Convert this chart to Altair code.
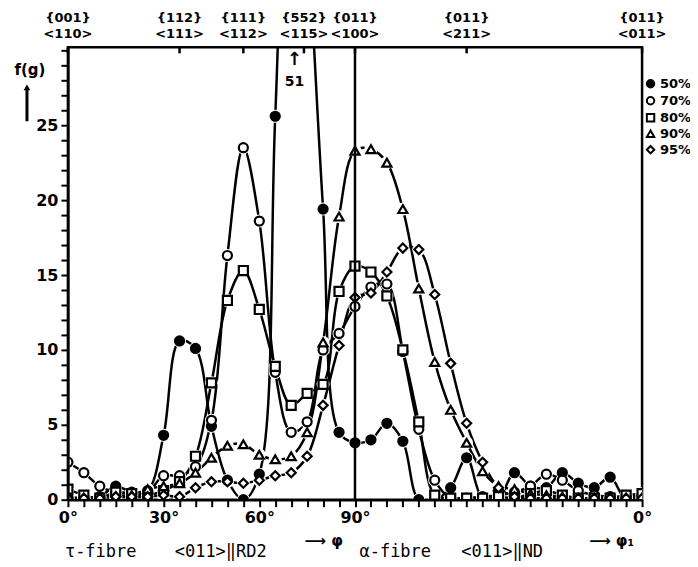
import altair as alt
import pandas as pd

# ---------------- data ----------------
angles = list(range(0, 181, 5))          # 0..90 = tau-fibre (phi), 90..180 = alpha-fibre (phi1 90 -> 0)
series_names = ["50%", "70%", "80%", "90%", "95%"]
f50 = [0.2, 0.1, 0.2, 0.9, 0.5, 0.6, 4.3, 10.6, 10.1, 4.9, 1.3, 0.0, 1.7, 25.6, 51.0, 38.0, 19.4, 4.5,
       3.8, 4.0, 5.1, 3.9, 0.0, 0.0, 0.8, 2.8, 0.1, 0.1, 1.8, 0.9, 0.8, 1.8, 1.1, 0.8, 1.5, 0.0, 0.3]
f70 = [2.5, 1.8, 0.9, 0.5, 0.4, 0.5, 1.6, 1.6, 2.2, 5.3, 16.3, 23.5, 18.6, 8.5, 4.5, 5.2, 10.0, 11.1,
       12.9, 14.2, 14.4, 9.9, 4.7, 1.3, 0.1, 0.1, 0.2, 0.3, 0.5, 0.9, 1.7, 1.3, 0.6, 0.3, 0.2, 0.2, 0.3]
f80 = [0.7, 0.3, 0.1, 0.5, 0.4, 0.3, 0.6, 1.2, 2.9, 7.8, 13.3, 15.3, 12.7, 8.9, 6.3, 7.1, 7.7, 13.9,
       15.6, 15.2, 13.6, 10.0, 5.2, 0.3, 0.1, 0.1, 0.1, 0.2, 0.1, 0.4, 0.6, 0.3, 0.1, 0.1, 0.1, 0.3, 0.4]
f90 = [0.1, 0.1, 0.2, 0.2, 0.3, 0.7, 0.9, 1.1, 1.8, 2.8, 3.6, 3.7, 3.0, 2.7, 2.9, 4.5, 10.5, 18.9,
       23.3, 23.4, 22.5, 19.4, 14.1, 9.2, 6.0, 3.8, 1.9, 0.9, 0.7, 0.4, 0.3, 0.2, 0.1, 0.1, 0.1, 0.1, 0.1]
f95 = [0.1, 0.1, 0.1, 0.2, 0.2, 0.2, 0.3, 0.2, 0.8, 1.2, 1.2, 1.1, 1.3, 1.6, 1.8, 2.9, 6.3, 10.3,
       13.5, 13.8, 15.2, 16.8, 16.7, 13.7, 9.1, 5.1, 2.5, 0.8, 0.2, 0.1, 0.1, 0.1, 0.1, 0.1, 0.1, 0.1, 0.1]

top_pos = [0, 35, 55, 74, 90, 125, 180]
top_planes = ["{001}", "{112}", "{111}", "{552}", "{011}", "{011}", "{011}"]
top_dirs = ["<110>", "<111>", "<112>", "<115>", "<100>", "<211>", "<011>"]

peak_pos = [71]
peak_label = ["51"]
divider_pos = [90]

FONT = "DejaVu Sans"
MONO = "DejaVu Sans Mono"

rows = []
for name, vals in zip(series_names, [f50, f70, f80, f90, f95]):
    for a, v in zip(angles, vals):
        rows.append({"angle": a, "f": v, "series": name})
df = pd.DataFrame(rows)
top_df = pd.DataFrame({"pos": top_pos, "plane": top_planes, "dir": top_dirs})
peak_df = pd.DataFrame({"pos": peak_pos, "label": peak_label})
div_df = pd.DataFrame({"pos": divider_pos})
one = pd.DataFrame({"a": [0]})

x_scale = alt.Scale(domain=[0, 180], nice=False, zero=False)
y_scale = alt.Scale(domain=[0, 30.2], nice=False, zero=True)
shape_scale = alt.Scale(domain=series_names,
                        range=["circle", "circle", "square", "triangle-up", "diamond"])
fill_scale = alt.Scale(domain=series_names,
                       range=["black", "white", "white", "white", "white"])
stroke_scale = alt.Scale(domain=series_names, range=["black"] * 5)

bottom_axis = alt.Axis(
    values=angles, tickSize=7, tickWidth=2, tickColor="black",
    domainColor="black", domainWidth=2.5, grid=False, title=None, zindex=1,
    labelExpr="datum.value == 180 ? '0°' : ((datum.value <= 90 && datum.value % 30 == 0) ? datum.value + '°' : '')",
    labelFont=FONT, labelFontWeight="bold", labelFontSize=16, labelColor="black",
    labelPadding=3, labelOverlap=False, labelFlush=False,
)
left_axis = alt.Axis(
    values=list(range(0, 31)), tickSize=7, tickWidth=2, tickColor="black",
    domainColor="black", domainWidth=2.5, grid=False, title=None, zindex=1,
    labelExpr="(datum.value % 5 == 0 && datum.value < 30) ? '' + datum.value : ''",
    labelFont=FONT, labelFontWeight="bold", labelFontSize=16, labelColor="black",
    labelPadding=3, labelOverlap=False, labelFlush=False,
)

legend = alt.Legend(
    orient="none", legendX=577, legendY=30, title=None,
    labelFont=FONT, labelFontWeight="bold", labelFontSize=13, labelColor="black",
    symbolSize=55, symbolStrokeWidth=2, symbolStrokeColor="black",
    rowPadding=0, labelOffset=3,
)


def xq(field):
    return alt.X(field, scale=x_scale, axis=bottom_axis)


def yq(field):
    return alt.Y(field, scale=y_scale, axis=left_axis)


lines = alt.Chart(df).mark_line(
    color="black", strokeWidth=2.5, interpolate="catmull-rom", clip=True
).encode(x=xq("angle:Q"), y=yq("f:Q"), detail="series:N")

halo = alt.Chart(df).mark_circle(color="white", size=170, opacity=1, clip=True).encode(
    x=xq("angle:Q"), y=yq("f:Q"),
)

markers = alt.Chart(df).mark_point(
    strokeWidth=2.2, size=82, opacity=1, clip=True
).encode(
    x=xq("angle:Q"), y=yq("f:Q"),
    shape=alt.Shape("series:N", scale=shape_scale, legend=legend),
    fill=alt.Fill("series:N", scale=fill_scale, legend=legend),
    stroke=alt.Stroke("series:N", scale=stroke_scale, legend=legend),
)

divider = alt.Chart(div_df).mark_rule(color="black", strokeWidth=2.5).encode(
    x=xq("pos:Q")
)

top_ticks = alt.Chart(top_df).mark_rule(color="black", strokeWidth=2.5).encode(
    x=xq("pos:Q"), y=alt.value(0), y2=alt.value(6)
)
top_row1 = alt.Chart(top_df).mark_text(
    font=FONT, fontWeight="bold", fontSize=13, color="black", baseline="middle", align="center"
).encode(x=xq("pos:Q"), y=alt.value(-29), text="plane:N")
top_row2 = alt.Chart(top_df).mark_text(
    font=FONT, fontWeight="bold", fontSize=13, color="black", baseline="middle", align="center"
).encode(x=xq("pos:Q"), y=alt.value(-13), text="dir:N")

peak_arrow = alt.Chart(peak_df).mark_text(
    font=FONT, fontWeight="bold", fontSize=18, color="black", baseline="middle", align="center"
).encode(x=xq("pos:Q"), y=alt.value(13), text=alt.value("↑"))
peak_text = alt.Chart(peak_df).mark_text(
    font=FONT, fontWeight="bold", fontSize=14, color="black", baseline="middle", align="center"
).encode(x=xq("pos:Q"), y=alt.value(35), text="label:N")


def note(txt, x, y, size=15, align="center", font=FONT, weight="bold"):
    return alt.Chart(one).mark_text(
        font=font, fontWeight=weight, fontSize=size, color="black",
        baseline="middle", align=align
    ).encode(x=alt.value(x), y=alt.value(y), text=alt.value(txt))


ylab = note("f(g)", -38, 23, size=15)
yarrow = alt.Chart(one).mark_rule(color="black", strokeWidth=3).encode(
    x=alt.value(-41), y=alt.value(42), y2=alt.value(74))
yhead = alt.Chart(one).mark_point(shape="triangle-up", filled=True, color="black", size=45, opacity=1).encode(
    x=alt.value(-41), y=alt.value(40))

tau1 = note("τ-fibre", -3, 505, size=17, align="left", font=MONO, weight="normal")
tau2 = note("<011>‖RD2", 107, 505, size=17, align="left", font=MONO, weight="normal")
alpha1 = note("α-fibre", 292, 505, size=17, align="left", font=MONO, weight="normal")
alpha2 = note("<011>‖ND", 394, 505, size=17, align="left", font=MONO, weight="normal")
phi = note("⟶ φ", 237, 494, size=15, align="left")
phi1 = note("⟶ φ₁", 522, 494, size=15, align="left")

chart = alt.layer(
    lines, halo, markers, divider, top_ticks, top_row1, top_row2,
    peak_arrow, peak_text, ylab, yarrow, yhead, tau1, tau2, alpha1, alpha2, phi, phi1
).properties(
    width=575, height=453,
    padding={"left": 60, "top": 39, "right": 48, "bottom": 62},
    autosize=alt.AutoSizeParams(type="none"),
    background="white",
).configure_view(stroke="black", strokeWidth=2.5)

chart.save("out.html", embed_options={"renderer": "svg", "actions": False})
